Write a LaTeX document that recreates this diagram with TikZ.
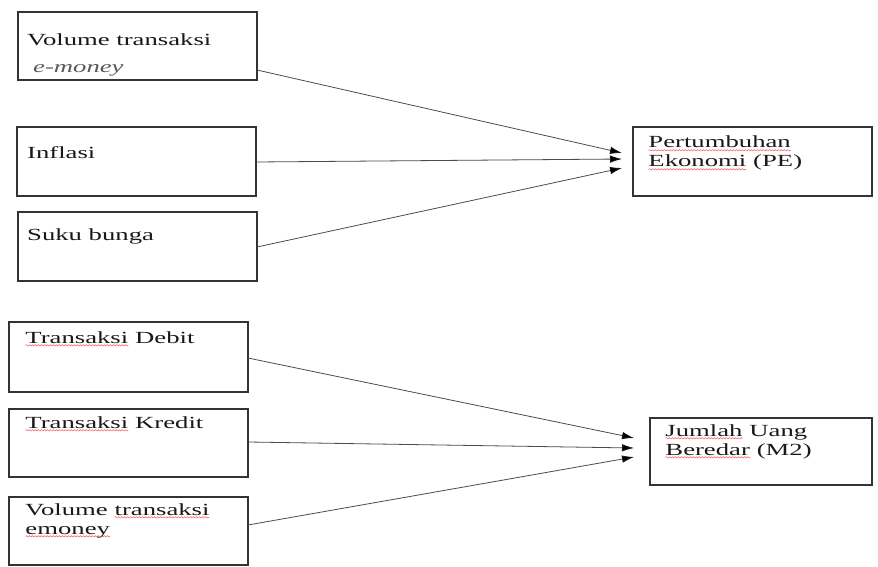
\documentclass[tikz,border=0pt]{standalone}
\usepackage{fontspec}
\setmainfont{Liberation Serif}[FakeStretch=1.57]
\usetikzlibrary{arrows.meta,decorations.pathmorphing}
\newcommand\wavy[1]{\tikz[baseline=(w.base)]{\node[inner sep=0pt, outer sep=0pt] (w) {#1};
  \draw[red!65, line width=0.5pt, decorate, decoration={snake, amplitude=0.7pt, segment length=3pt}]
    ([yshift=-2.3pt]w.base west) -- ([yshift=-2.3pt]w.base east);}}
\begin{document}
\begin{tikzpicture}[x=1pt,y=-1pt,
  box/.style={draw=black!80, line width=1.2pt, rectangle, anchor=north west, inner sep=0pt, outer sep=0pt},
  lbl/.style={anchor=base west, inner sep=0pt, font=\fontsize{17}{20}\selectfont, text=black!90},
  link/.style={draw=black!70, line width=0.8pt, -{Latex[length=12pt,width=7.5pt,color=black!90]}}]
\useasboundingbox (0,0) rectangle (878,567);
\fill[white] (0,0) rectangle (878,567);
% boxes
\node[box, minimum width=239pt, minimum height=68pt] (a1) at (18,12) {};
\node[box, minimum width=239pt, minimum height=69pt] (a2) at (17,127) {};
\node[box, minimum width=239pt, minimum height=69pt] (a3) at (18,212) {};
\node[box, minimum width=239pt, minimum height=69pt] (pe) at (633,127) {};
\node[box, minimum width=239pt, minimum height=70pt] (b1) at (9,322) {};
\node[box, minimum width=239pt, minimum height=68pt] (b2) at (9,409) {};
\node[box, minimum width=239pt, minimum height=68pt] (b3) at (9,497) {};
\node[box, minimum width=222pt, minimum height=67pt] (m2) at (650,418) {};
% labels
\node[lbl] (t1) at (27,46) {Volume transaksi};
\node[lbl, text=black!65] (t1b) at (33,73) {\itshape e-money};
\node[lbl] (t2) at (27,158) {Inflasi};
\node[lbl] (t3) at (27,240) {Suku bunga};
\node[lbl] (tpe1) at (648,148) {\wavy{Pertumbuhan}};
\node[lbl] (tpe2) at (648,167) {\wavy{Ekonomi} (PE)};
\node[lbl] (tb1) at (25,343) {\wavy{Transaksi} Debit};
\node[lbl] (tb2) at (25,428) {\wavy{Transaksi} Kredit};
\node[lbl] (tb3) at (25,515) {Volume \wavy{transaksi}};
\node[lbl] (tb3b) at (25,534) {\wavy{emoney}};
\node[lbl] (tm1) at (665,436) {\wavy{Jumlah} Uang};
\node[lbl] (tm2) at (665,455) {\wavy{Beredar} (M2)};
% connector end points
\coordinate (a1o) at (257,70);
\coordinate (a2o) at (256,162);
\coordinate (a3o) at (257,247);
\coordinate (pe1) at (622,153);
\coordinate (pe2) at (622,159);
\coordinate (pe3) at (622,168);
\coordinate (b1o) at (248,358);
\coordinate (b2o) at (248,442);
\coordinate (b3o) at (248,525);
\coordinate (m2a) at (634,438);
\coordinate (m2b) at (634,448);
\coordinate (m2c) at (634,457);
% connectors
\draw[link] (a1o) -- (pe1);
\draw[link] (a2o) -- (pe2);
\draw[link] (a3o) -- (pe3);
\draw[link] (b1o) -- (m2a);
\draw[link] (b2o) -- (m2b);
\draw[link] (b3o) -- (m2c);
\end{tikzpicture}
\end{document}
